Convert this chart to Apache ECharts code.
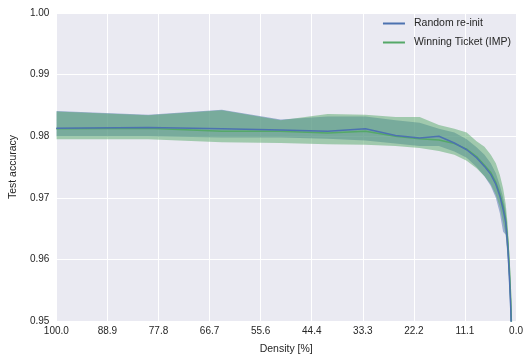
<!DOCTYPE html>
<html><head><meta charset="utf-8">
<script src="https://cdn.jsdelivr.net/npm/echarts@6/dist/echarts.min.js"></script>
<style>html,body{margin:0;padding:0;background:#fff}#c{width:526px;height:360px}</style>
</head><body><div id="c"></div>
<script>
const density = [100, 80, 64, 51.2, 40.96, 32.77, 26.21, 20.97, 16.78, 13.42, 10.74, 8.59, 6.87, 5.5, 4.4, 3.52, 2.81, 2.25, 1.8, 1.44, 1.15, 0.92];
const randomMean  = [0.9813,0.9814,0.9812,0.9810,0.9808,0.9812,0.9801,0.9797,0.9800,0.9789,0.9778,0.9765,0.9751,0.9738,0.9722,0.9703,0.9681,0.9660,0.9620,0.9570,0.9520,0.9450];
const randomUpper = [0.9841,0.9835,0.9843,0.9827,0.9832,0.9832,0.9826,0.9822,0.9812,0.9806,0.9795,0.9782,0.9770,0.9756,0.9740,0.9720,0.9700,0.9680,0.9635,0.9585,0.9535,0.9470];
const randomLower = [0.9800,0.9800,0.9798,0.9798,0.9796,0.9793,0.9788,0.9784,0.9784,0.9775,0.9765,0.9750,0.9735,0.9719,0.9700,0.9675,0.9645,0.9640,0.9600,0.9550,0.9500,0.9430];
const ticketMean  = [0.9812,0.9813,0.9808,0.9808,0.9805,0.9808,0.9800,0.9796,0.9794,0.9788,0.9779,0.9767,0.9753,0.9741,0.9725,0.9706,0.9687,0.9665,0.9630,0.9585,0.9535,0.9470];
const ticketUpper = [0.9840,0.9834,0.9842,0.9826,0.9836,0.9835,0.9831,0.9831,0.9818,0.9812,0.9806,0.9792,0.9783,0.9770,0.9756,0.9737,0.9715,0.9690,0.9655,0.9605,0.9555,0.9490];
const ticketLower = [0.9795,0.9795,0.9790,0.9789,0.9787,0.9786,0.9784,0.9781,0.9776,0.9770,0.9760,0.9748,0.9735,0.9722,0.9705,0.9685,0.9660,0.9640,0.9605,0.9560,0.9515,0.9450];
const yTicks = [0.95, 0.96, 0.97, 0.98, 0.99, 1.00];
const seriesNames = ['Random re-init', 'Winning Ticket (IMP)'];

const BLUE = '#4C72B0', GREEN = '#55A868', TXT = '#262626', FONT = 'Liberation Sans';
const pts = arr => density.map((d, i) => [d, arr[i]]);

function band(lower, upper, color) {
  return {
    type: 'custom', silent: true, z: 1,
    data: density.map((d, i) => [d, lower[i], upper[i]]),
    encode: {x: 0, y: [1, 2]},
    renderItem: function (params, api) {
      if (params.dataIndex !== 0) return null;
      const poly = [];
      for (let i = 0; i < density.length; i++) poly.push(api.coord([density[i], upper[i]]));
      for (let i = density.length - 1; i >= 0; i--) poly.push(api.coord([density[i], lower[i]]));
      const cs = params.coordSys;
      return {
        type: 'polygon',
        shape: {points: poly},
        style: {fill: color, opacity: 0.5},
        clipPath: {type: 'rect', shape: {x: cs.x, y: cs.y, width: cs.width, height: cs.height}}
      };
    }
  };
}

const chart = echarts.init(document.getElementById('c'), null, {renderer: 'canvas'});
chart.setOption({
  animation: false,
  backgroundColor: '#ffffff',
  textStyle: {fontFamily: FONT},
  grid: {left: 55, right: 6, top: 13, bottom: 38, show: true, backgroundColor: '#EAEAF2', borderWidth: 0},
  legend: {
    orient: 'vertical', right: 10, top: 13, itemGap: 8, itemWidth: 22, itemHeight: 2,
    icon: 'rect', data: seriesNames,
    textStyle: {color: TXT, fontSize: 10.5, fontFamily: FONT, padding: [0, 0, 0, 4]}
  },
  xAxis: {
    type: 'value', inverse: true, min: 0, max: 100, interval: 100/9,
    name: 'Density [%]', nameLocation: 'middle', nameGap: 23,
    nameTextStyle: {color: TXT, fontSize: 10.5, fontFamily: FONT},
    axisLine: {show: false}, axisTick: {show: false},
    axisLabel: {color: TXT, fontSize: 10, margin: 5, fontFamily: FONT,
      formatter: v => (Math.round(v * 10) / 10).toFixed(1)},
    splitLine: {show: true, lineStyle: {color: '#ffffff', width: 1}}
  },
  yAxis: {
    type: 'value', min: yTicks[0], max: yTicks[yTicks.length - 1], interval: 0.01,
    name: 'Test accuracy', nameLocation: 'middle', nameGap: 30,
    nameTextStyle: {color: TXT, fontSize: 10.5, fontFamily: FONT},
    axisLine: {show: false}, axisTick: {show: false},
    axisLabel: {color: TXT, fontSize: 10, margin: 7, fontFamily: FONT, formatter: v => v.toFixed(2)},
    splitLine: {show: true, lineStyle: {color: '#ffffff', width: 1}}
  },
  series: [
    band(randomLower, randomUpper, BLUE),
    band(ticketLower, ticketUpper, GREEN),
    {name: seriesNames[1], type: 'line', data: pts(ticketMean), showSymbol: false,
     lineStyle: {color: GREEN, width: 1.5}, itemStyle: {color: GREEN}, z: 3},
    {name: seriesNames[0], type: 'line', data: pts(randomMean), showSymbol: false,
     lineStyle: {color: BLUE, width: 1.5}, itemStyle: {color: BLUE}, z: 4}
  ]
});
</script>
</body></html>
